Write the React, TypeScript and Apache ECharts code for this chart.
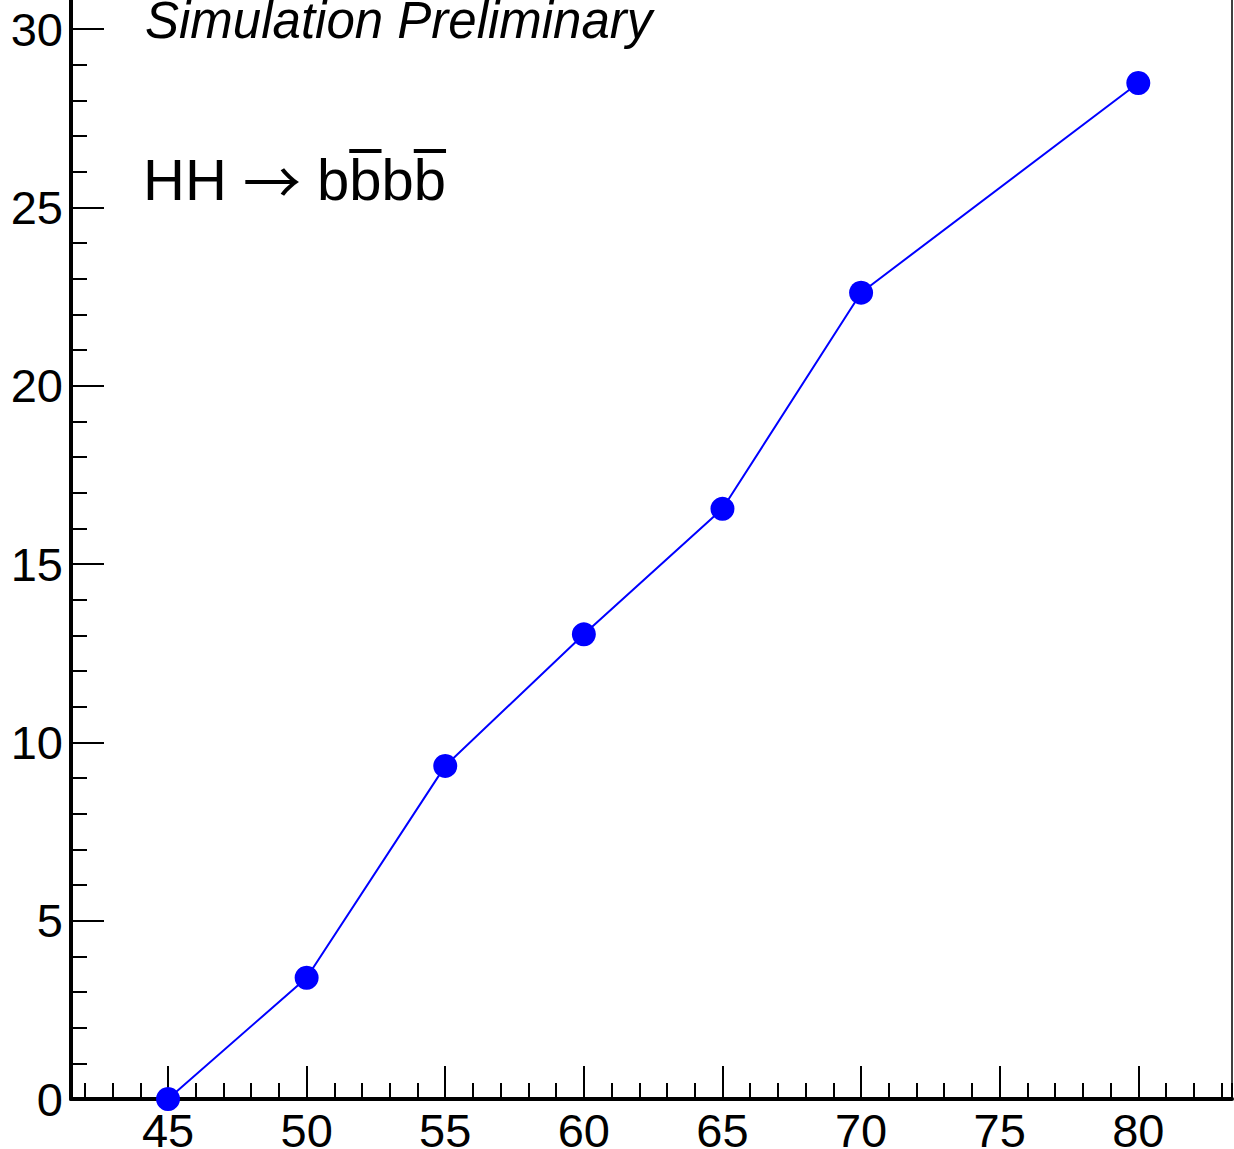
import React, { useEffect, useRef } from "react";
import * as echarts from "echarts";

const FONT = '"Liberation Sans", Arial, Helvetica, sans-serif';
const ARROW_FONT = '"Noto Sans CJK JP", "DejaVu Sans", sans-serif';

// data
const massX: number[] = [45, 50, 55, 60, 65, 70, 80];
const values: number[] = [0.0, 3.4, 9.34, 13.03, 16.55, 22.61, 28.49];

// axes
const X_MIN = 41.5;
const X_MAX = 83.38;
const Y_MIN = 0;
const Y_MAX = 31.35;

// texts
const TITLE_TEXT = "Simulation Preliminary";
const PROC_LEFT = "HH ";
const PROC_ARROW = "\u2192";
const PROC_RIGHT = " bbbb";

export default function App() {
  const ref = useRef<HTMLDivElement | null>(null);

  useEffect(() => {
    document.body.style.margin = "0";
    if (!ref.current) return;
    const chart = echarts.init(ref.current, undefined, { renderer: "svg" });

    // measure widths for overbars
    const procX = 143;
    const procSize = 58;
    let wLeft = 0, wArrow = 0, wSp = 0, bw = 32;
    const cv = document.createElement("canvas");
    const ctx = cv.getContext("2d");
    if (ctx) {
      ctx.font = `${procSize}px ${FONT}`;
      wLeft = ctx.measureText(PROC_LEFT).width;
      wSp = ctx.measureText(" ").width;
      bw = ctx.measureText("b").width;
      ctx.font = `${procSize}px ${ARROW_FONT}`;
      wArrow = ctx.measureText(PROC_ARROW).width;
    }
    const bStart = procX + wLeft + wArrow + wSp;
    const bar1 = bStart + bw;
    const bar2 = bStart + 3 * bw;

    const data = massX.map((x, i) => [x, values[i]]);

    chart.setOption({
      animation: false,
      backgroundColor: "#fff",
      grid: {
        left: 71,
        right: 2,
        top: -19,
        bottom: 50,
        containLabel: false,
        outerBoundsMode: "none",
      },
      xAxis: [
        {
          type: "value",
          position: "bottom",
          min: X_MIN,
          max: X_MAX,
          splitNumber: 8,
          minInterval: 5,
          maxInterval: 5,
          axisLine: { show: true, onZero: false, lineStyle: { color: "#000", width: 4 } },
          axisTick: { show: true, inside: true, length: 33, lineStyle: { color: "#000", width: 2 } },
          axisLabel: {
            fontSize: 47,
            color: "#000",
            fontFamily: FONT,
            lineHeight: 34,
            margin: 14,
            showMinLabel: false,
            showMaxLabel: false,
          },
          splitLine: { show: false },
        },
        {
          type: "value",
          position: "bottom",
          min: X_MIN,
          max: X_MAX,
          splitNumber: 42,
          minInterval: 1,
          maxInterval: 1,
          axisLine: { show: false, onZero: false },
          axisTick: { show: true, inside: true, length: 16, lineStyle: { color: "#000", width: 2 } },
          axisLabel: { show: false },
          splitLine: { show: false },
        },
      ],
      yAxis: [
        {
          type: "value",
          position: "left",
          min: Y_MIN,
          max: Y_MAX,
          interval: 5,
          axisLine: { show: true, onZero: false, lineStyle: { color: "#000", width: 4 } },
          axisTick: { show: true, inside: true, length: 33, lineStyle: { color: "#000", width: 2 } },
          axisLabel: {
            fontSize: 47,
            color: "#000",
            fontFamily: FONT,
            lineHeight: 34,
            margin: 8,
            showMaxLabel: false,
          },
          splitLine: { show: false },
        },
        {
          type: "value",
          position: "left",
          min: Y_MIN,
          max: Y_MAX,
          interval: 1,
          axisLine: { show: false, onZero: false },
          axisTick: { show: true, inside: true, length: 16, lineStyle: { color: "#000", width: 2 } },
          axisLabel: { show: false },
          splitLine: { show: false },
        },
        {
          type: "value",
          position: "right",
          min: Y_MIN,
          max: Y_MAX,
          axisLine: { show: true, onZero: false, lineStyle: { color: "#000", width: 1.5 } },
          axisTick: { show: false },
          axisLabel: { show: false },
          splitLine: { show: false },
        },
      ],
      series: [
        {
          type: "line",
          xAxisIndex: 0,
          yAxisIndex: 0,
          data,
          clip: false,
          symbol: "circle",
          symbolSize: 24,
          itemStyle: { color: "#0000ff" },
          lineStyle: { color: "#0000ff", width: 2 },
        },
      ],
      graphic: [
        {
          type: "text",
          x: 145,
          y: 20,
          style: {
            text: TITLE_TEXT,
            fontSize: 51,
            fontStyle: "italic",
            fontFamily: FONT,
            lineHeight: 38,
            fill: "#000",
            align: "left",
            verticalAlign: "middle",
          },
        },
        {
          type: "text",
          x: procX,
          y: 179,
          style: {
            text: `{a|${PROC_LEFT}}{r|${PROC_ARROW}}{a|${PROC_RIGHT}}`,
            fill: "#000",
            align: "left",
            verticalAlign: "middle",
            rich: {
              a: { fontSize: procSize, fontFamily: FONT, fill: "#000", lineHeight: 60 },
              r: { fontSize: procSize, fontFamily: ARROW_FONT, fill: "#000", lineHeight: 60 },
            },
          },
        },
        {
          type: "line",
          shape: { x1: bar1, y1: 151, x2: bar1 + bw, y2: 151 },
          style: { stroke: "#000", lineWidth: 4 },
        },
        {
          type: "line",
          shape: { x1: bar2, y1: 151, x2: bar2 + bw, y2: 151 },
          style: { stroke: "#000", lineWidth: 4 },
        },
      ],
    });

    return () => {
      chart.dispose();
    };
  }, []);

  return <div ref={ref} style={{ width: 1234, height: 1149 }} />;
}
